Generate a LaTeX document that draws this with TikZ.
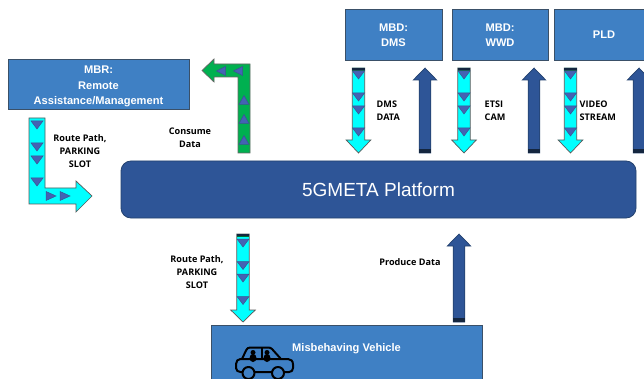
\documentclass[tikz,border=0pt]{standalone}
\usepackage{fontspec}
\setmainfont{Liberation Sans}
\newfontfamily\lblfont{Open Sans}
\definecolor{boxblue}{HTML}{3F80C4}
\definecolor{boxedge}{HTML}{3A5068}
\definecolor{platblue}{HTML}{2E5597}
\definecolor{platedge}{HTML}{24426F}
\definecolor{cyanfill}{HTML}{00FFFF}
\definecolor{greenfill}{HTML}{00B050}
\definecolor{tribl}{HTML}{4463B4}
\definecolor{triedge}{HTML}{3A5590}
\definecolor{capdark}{HTML}{14263F}
\tikzset{
  boxnode/.style={draw=boxedge,line width=0.8pt,fill=boxblue,text=white,inner sep=0pt,align=center,
    font=\fontsize{11.1}{15.4}\selectfont\bfseries},
  lbl/.style={align=center,inner sep=0pt,text=black,font=\lblfont\fontsize{9.1}{13.2}\selectfont\bfseries},
  cyanarrow/.style={draw=black!65,line width=0.7pt,fill=cyanfill,line join=miter},
  bluearrow/.style={draw=platedge,line width=0.7pt,fill=platblue,line join=miter},
  greenarrow/.style={draw=black!60,line width=0.7pt,fill=greenfill,line join=miter},
  tri/.style={draw=triedge,line width=0.5pt,fill=tribl},
  capbar/.style={fill=capdark,draw=none}
}
% centre x, top y, head base y, tip y
\newcommand{\downarrowshape}[4]{%
  \draw[cyanarrow] (#1-6.2,#2) -- (#1+6.2,#2) -- (#1+6.2,#3) -- (#1+12.3,#3) -- (#1,#4) -- (#1-12.3,#3) -- (#1-6.2,#3) -- cycle;
  \fill[capbar] (#1-6.2,#2-0.4) rectangle (#1+6.2,#2+1.6);
  \fill[greenfill!60!black] (#1-6.2,#2+1.6) rectangle (#1+6.2,#2+2.6);}
\newcommand{\uparrowshape}[4]{%
  \draw[bluearrow] (#1-5.8,#2) -- (#1+5.8,#2) -- (#1+5.8,#3) -- (#1+11.7,#3) -- (#1,#4) -- (#1-11.7,#3) -- (#1-5.8,#3) -- cycle;
  \fill[capbar] (#1-5.8,#2-3.6) rectangle (#1+5.8,#2+0.4);}
\newcommand{\dtri}[2]{\draw[tri] (#1-6,#2-4) -- (#1+6,#2-4) -- (#1,#2+4) -- cycle;}
\newcommand{\utri}[2]{\draw[tri] (#1-5,#2+4.5) -- (#1+5,#2+4.5) -- (#1,#2-4.5) -- cycle;}
\newcommand{\rtri}[2]{\draw[tri] (#1-5,#2-4.5) -- (#1-5,#2+4.5) -- (#1+5,#2) -- cycle;}
\newcommand{\ltri}[2]{\draw[tri] (#1+4.5,#2-4.5) -- (#1+4.5,#2+4.5) -- (#1-4.5,#2) -- cycle;}
\newcommand{\fourtri}[5]{\dtri{#1}{#2}\dtri{#1}{#3}\dtri{#1}{#4}\dtri{#1}{#5}}
\begin{document}
\begin{tikzpicture}[x=1pt,y=-1pt]
\useasboundingbox (0,0) rectangle (644,379);
\clip (0,0) rectangle (644,379);
\fill[white] (0,0) rectangle (644,379);

% boxes
\node[boxnode,minimum width=181pt,minimum height=50pt] (mbr) at (98.5,84) {\rule{0pt}{12.5pt}MBR:\\Remote\\Assistance/Management};
\node[boxnode,minimum width=97pt,minimum height=50.5pt] (dms) at (393.5,35) {MBD:\\DMS};
\node[boxnode,minimum width=96pt,minimum height=50.5pt] (wwd) at (500,35) {MBD:\\WWD};
\node[boxnode,minimum width=100pt,minimum height=50.5pt] (pld) at (604,35) {PLD};
\node[draw=platedge,line width=0.8pt,fill=platblue,rounded corners=10pt,minimum width=515pt,minimum height=57pt,inner sep=0pt,text=white,
  font=\fontsize{19}{21}\selectfont] (plat) at (378.5,189.5) {5GMETA Platform};
\node[draw=boxedge,line width=0.8pt,fill=boxblue,minimum width=271pt,minimum height=70pt,inner sep=0pt] (veh) at (346.5,360) {};
\node[text=white,inner sep=0pt,font=\fontsize{11.1}{13}\selectfont\bfseries] (vehlbl) at (346.5,348.5) {Misbehaving Vehicle};

% cyan L arrow
\draw[cyanarrow] (29,118) -- (45,118) -- (45,188) -- (76,188) -- (76,181) -- (92,196) -- (76,212) -- (76,204) -- (29,204) -- cycle;
\fourtri{37}{125}{147}{160}{182}
\rtri{51}{196}\rtri{65}{196}

% green L arrow
\draw[greenarrow] (250,153) -- (238,153) -- (238,77) -- (214,77) -- (214,82) -- (202,70.5) -- (214,59) -- (214,64) -- (250,64) -- cycle;
\ltri{221}{71}\ltri{238}{71}
\utri{244}{100}\utri{244}{119}\utri{244}{140}

% down arrows
\downarrowshape{358.5}{68}{140}{153}\fourtri{358.5}{75}{97}{110}{132}
\downarrowshape{464}{68}{140}{153}\fourtri{464}{75}{97}{110}{132}
\downarrowshape{570.5}{68}{140}{153}\fourtri{570.5}{75}{97}{110}{132}
\downarrowshape{243}{234}{310}{322}\fourtri{243}{243}{265.5}{278}{300.5}

% up arrows
\uparrowshape{425}{153}{80}{68}
\uparrowshape{534}{153}{80}{68}
\uparrowshape{639}{153}{80}{68}
\uparrowshape{459}{322}{246}{234}

% labels
\node[lbl] (l1) at (80,151) {Route Path,\\PARKING\\SLOT};
\node[lbl] (l2) at (190,138) {Consume\\Data};
\node[lbl,align=left,anchor=west] (l3) at (376.5,110.5) {DMS\\DATA};
\node[lbl,align=left,anchor=west] (l4) at (484.5,110.5) {ETSI\\CAM};
\node[lbl,align=left,anchor=west] (l5) at (579.5,110.5) {VIDEO\\STREAM};
\node[lbl] (l6) at (197,272) {Route Path,\\PARKING\\SLOT};
\node[lbl] (l7) at (410,262.5) {Produce Data};

% car
\begin{scope}[line width=2pt,draw=black,line join=round]
\draw (242,359) -- (246,350.5) .. controls (247,348.5) and (248,347.5) .. (250,347.5)
  -- (268,347.5) .. controls (270,347.5) and (271,348) .. (272,349) -- (281,359);
\draw (262,347.5) -- (262,359);
\draw (242,359) -- (240.5,359) .. controls (238,359) and (236,361) .. (236,364) -- (236,368)
  .. controls (236,370.5) and (238,372) .. (240.5,372) -- (289,372) .. controls (291.5,372) and (293,370.5) .. (293,368)
  -- (293,364.5) .. controls (293,361) and (291,359) .. (288,359) -- cycle;
\draw[fill=boxblue] (248.5,373) circle (6);
\draw[fill=boxblue] (278,373) circle (6);
\fill (253,352.5) circle (2.5);
\fill (253,358) ellipse (3.5 and 4);
\fill (267,352.5) circle (2.5);
\fill (267,358) ellipse (3.5 and 4);
\end{scope}
\end{tikzpicture}
\end{document}
